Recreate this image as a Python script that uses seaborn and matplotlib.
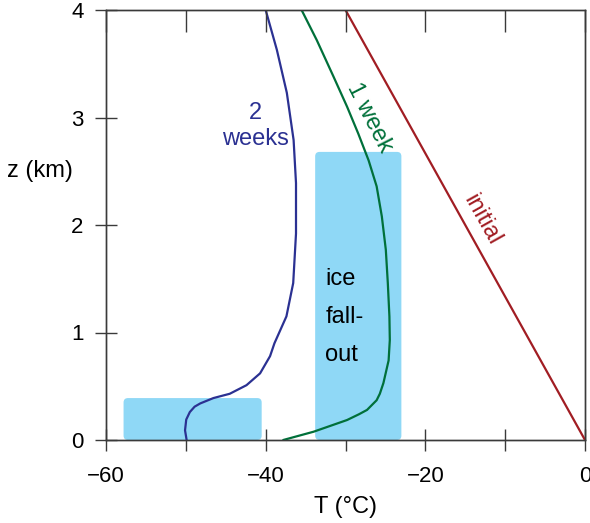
import numpy as np
import pandas as pd
import matplotlib.pyplot as plt
import seaborn as sns
from matplotlib.patches import FancyBboxPatch

# temperature profiles T (deg C) against height z (km)
z_initial = [0.0, 4.0]
t_initial = [0.0, -30.0]

z_week1 = [0.0, 0.077, 0.186, 0.24, 0.28, 0.34, 0.37, 0.43, 0.53, 0.74, 0.93, 1.15,
           1.46, 1.77, 2.08, 2.36, 2.60, 2.85, 3.10, 3.38, 3.72, 4.0]
t_week1 = [-37.8, -34.0, -29.8, -28.3, -27.3, -26.5, -26.1, -25.7, -25.25, -24.6, -24.45, -24.5,
           -24.7, -24.95, -25.45, -26.1, -27.1, -28.4, -29.8, -31.5, -33.6, -35.5]

z_week2 = [0.0, 0.09, 0.19, 0.26, 0.31, 0.34, 0.39, 0.43, 0.51, 0.62, 0.78, 0.90,
           1.15, 1.46, 1.92, 2.39, 2.79, 3.23, 3.63, 4.0]
t_week2 = [-49.9, -50.1, -49.95, -49.5, -48.9, -48.2, -46.55, -44.5, -42.4, -40.7, -39.45, -38.9,
           -37.4, -36.55, -36.2, -36.2, -36.5, -37.35, -38.6, -40.0]

# ice fall-out regions: (T left, T right, z top)
box_low = (-57.8, -40.5, 0.39)
box_high = (-33.8, -23.0, 2.68)

x_ticks = [-60, -50, -40, -30, -20, -10, 0]
x_ticklabels = ['\u221260', '', '\u221240', '', '\u221220', '', '0']
y_ticks = [0, 1, 2, 3, 4]

c_blue = '#2b3192'
c_green = '#00703a'
c_red = '#a11d23'
c_ice = '#8fd8f6'
c_axis = '#3a3a3a'

sns.set_theme(style='white')
plt.rcParams['font.family'] = ['Liberation Sans', 'DejaVu Sans']

fig = plt.figure(figsize=(5.9, 5.23), dpi=100)
ax = fig.add_axes([106 / 590, 83 / 523, 479 / 590, 430 / 523])

for x0, x1, top in [box_low, box_high]:
    ax.add_patch(FancyBboxPatch((x0, 0), x1 - x0, top,
                                boxstyle='round,pad=0,rounding_size=0.55',
                                mutation_aspect=7.98 / 107.5,
                                fc=c_ice, ec='none', zorder=1))

profiles = [(t_initial, z_initial, c_red),
            (t_week1, z_week1, c_green),
            (t_week2, z_week2, c_blue)]
for t, z, c in profiles:
    sns.lineplot(x=t, y=z, sort=False, estimator=None, color=c, lw=1.6,
                 ax=ax, zorder=3)

ax.text(-41.3, 2.92, '2\nweeks', color=c_blue, fontsize=17, ha='center',
        va='center', linespacing=1.25)
ax.text(-27.0, 3.0, '1 week', color=c_green, fontsize=17, ha='center',
        va='center', rotation=-63, rotation_mode='anchor')
ax.text(-12.9, 2.05, 'initial', color=c_red, fontsize=17, ha='center',
        va='center', rotation=-60.8, rotation_mode='anchor')
ax.text(-32.55, 1.147, 'ice\nfall-\nout', color='black', fontsize=17,
        ha='left', va='center', linespacing=1.95)

ax.set_xlim(-60, 0)
ax.set_ylim(0, 4)
ax.set_xticks(x_ticks)
ax.set_xticklabels(x_ticklabels)
ax.set_yticks(y_ticks)

for s in ax.spines.values():
    s.set_color(c_axis)
    s.set_linewidth(1.0)

ax.tick_params(axis='x', bottom=True, top=False, direction='inout', length=16.5,
               width=1.0, color=c_axis, labelsize=16, pad=10.7, labelcolor='black')
ax.tick_params(axis='y', left=True, right=False, direction='inout', length=16.5,
               width=1.0, color=c_axis, labelsize=16, pad=8, labelcolor='black')

# inward ticks along the top edge
tw = ax.twiny()
tw.set_xlim(ax.get_xlim())
tw.set_xticks(x_ticks)
tw.tick_params(axis='x', top=True, bottom=False, labeltop=False, labelbottom=False,
               direction='in', length=16, width=1.0, color=c_axis)
for s in tw.spines.values():
    s.set_color(c_axis)
    s.set_linewidth(1.0)

ax.set_xlabel('T (\u00b0C)', fontsize=17, color='black')
ax.xaxis.label.set_va('center')
ax.xaxis.set_label_coords(0.499, -0.155)
ax.set_ylabel('z (km)', fontsize=17, color='black', rotation=0)
ax.yaxis.label.set_ha('center')
ax.yaxis.label.set_va('center')
ax.yaxis.set_label_coords(-0.137, 0.625)

fig.savefig('out.png', dpi=100)
